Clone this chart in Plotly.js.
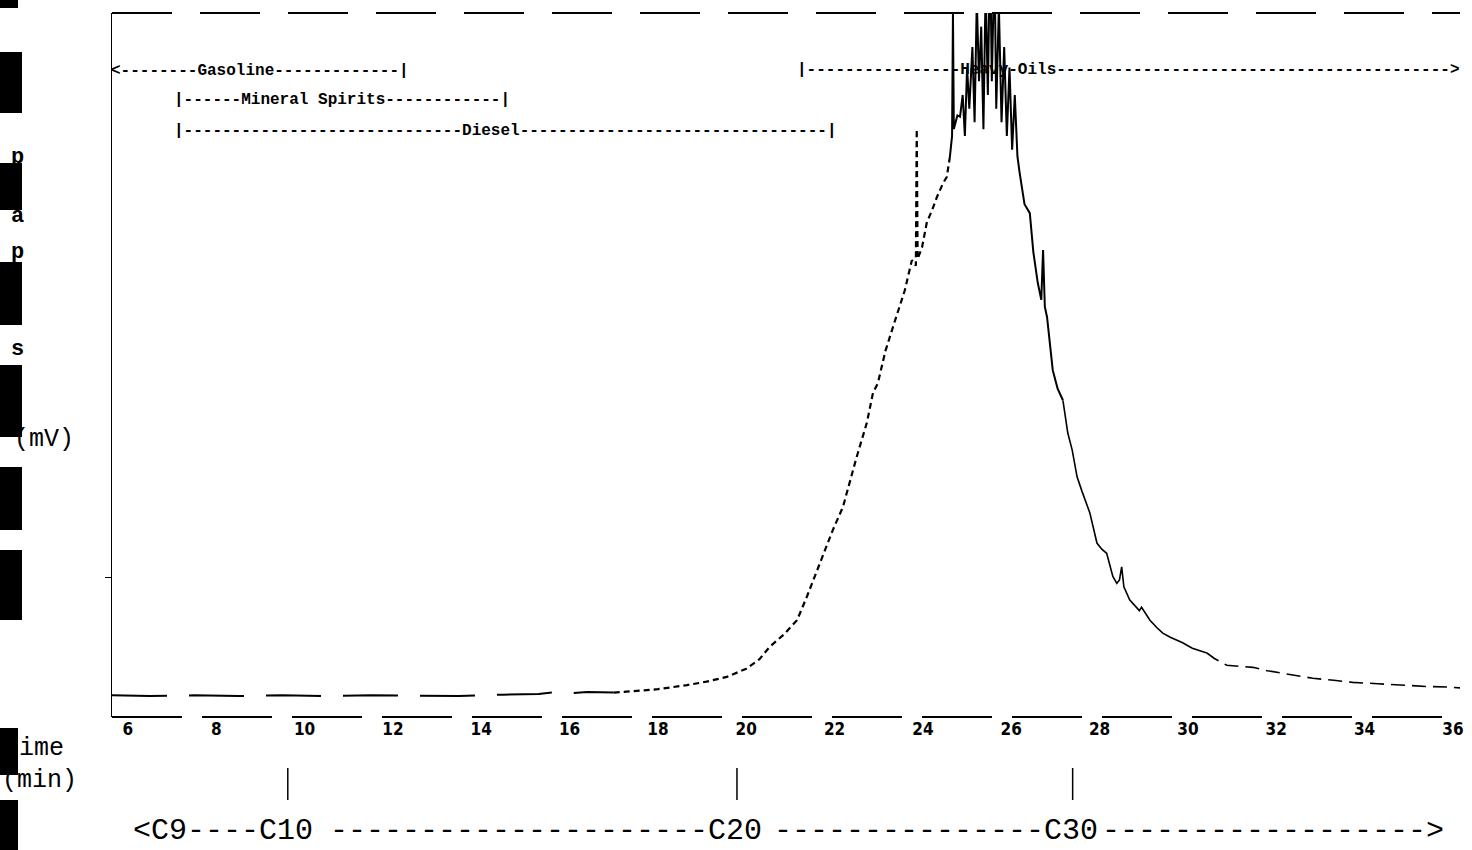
<!DOCTYPE html>
<html>
<head>
<meta charset="utf-8">
<script src="https://cdn.plot.ly/plotly-3.0.1.min.js"></script>
<style>html,body{margin:0;padding:0;background:#fff;}#chart{width:1472px;height:850px;}</style>
</head>
<body>
<div id="chart"></div>
<script>
// ---------- data ----------
// baseline segment (min, mV, arbitrary)
const earlyTime = [5.64, 6.5, 7.5, 8.5, 9.5, 10.5, 11.5, 12.5, 13.5, 14.5, 15.3, 15.7, 16.0, 16.4, 16.8, 17.0];
const earlyResp = [0.1, 0.0, 0.1, 0.0, 0.1, 0.0, 0.1, 0.1, 0.0, 0.2, 0.3, 0.6, 0.4, 0.6, 0.5, 0.5];
// rising front
const riseTime = [17.0, 17.5, 18.0, 18.66, 19.1, 19.56, 20.0, 20.3, 20.53, 20.85, 21.15, 21.37, 21.67, 21.96, 22.19, 22.35, 22.5, 22.73, 22.87, 22.98, 23.15, 23.36, 23.59, 23.75, 23.84, 23.86, 23.88, 23.98, 24.09, 24.2, 24.32, 24.45, 24.54, 24.61];
const riseResp = [0.5, 0.7, 1.0, 1.6, 2.1, 2.8, 4.0, 5.4, 7.2, 9.0, 11.1, 14.5, 19.5, 24.3, 27.7, 31.6, 35.0, 40.0, 44.4, 45.8, 50.5, 54.8, 59.4, 63.8, 63.0, 83.0, 64.0, 65.7, 69.4, 71.0, 73.1, 75.0, 76.0, 78.9];
// unresolved maximum (off-scale spikes)
const peakTime = [24.61, 24.66, 24.68, 24.70, 24.78, 24.84, 24.90, 24.95, 25.0, 25.05, 25.12, 25.17, 25.22, 25.27, 25.32, 25.37, 25.42, 25.47, 25.52, 25.56, 25.62, 25.66, 25.72, 25.78, 25.84, 25.9, 25.96, 26.02, 26.08, 26.14, 26.19, 26.3, 26.42, 26.5, 26.6, 26.68, 26.72, 26.76, 26.81, 26.87, 26.94, 27.05, 27.17];
const peakResp = [78.9, 82.0, 100.0, 83.0, 85.0, 84.8, 88.0, 82.0, 92.0, 86.0, 95.0, 84.0, 102.0, 90.0, 98.0, 83.0, 104.0, 88.0, 110.0, 90.0, 108.0, 86.0, 101.0, 84.0, 95.0, 82.0, 92.0, 80.0, 88.0, 79.0, 76.6, 72.0, 70.7, 65.0, 60.5, 58.0, 65.3, 57.0, 55.5, 52.1, 47.7, 45.0, 43.3];
// tailing decay
const tailTime = [27.17, 27.28, 27.38, 27.49, 27.6, 27.78, 27.94, 28.05, 28.16, 28.3, 28.39, 28.45, 28.5, 28.55, 28.68, 28.8, 28.9, 28.95, 29.14, 29.3, 29.43, 29.6, 29.88, 30.1, 30.43];
const tailResp = [43.3, 38.5, 36.0, 32.1, 30.0, 26.8, 22.4, 21.5, 20.9, 17.5, 16.5, 17.0, 18.9, 16.0, 14.1, 13.2, 12.5, 13.0, 11.1, 10.0, 9.2, 8.6, 7.8, 7.0, 6.3];
const lateTime = [30.43, 30.6, 30.88, 31.2, 31.47, 31.8, 32.08, 32.4, 32.83, 33.3, 33.73, 34.3, 34.8, 35.4, 35.93, 36.16];
const lateResp = [6.3, 5.5, 4.5, 4.3, 4.2, 3.7, 3.4, 3.0, 2.6, 2.3, 2.0, 1.8, 1.6, 1.4, 1.3, 1.2];

const xTickVals = [6, 8, 10, 12, 14, 16, 18, 20, 22, 24, 26, 28, 30, 32, 34, 36];
const yTickVals = [17.3];

// carbon-number retention markers
const carbonLabels = ['C10', 'C20', 'C30'];
const carbonTimes = [9.62, 19.79, 27.39];

// product boiling ranges (start time of each bracket) and their printed labels
const fuelStart = [5.65, 7.0, 7.0, 21.1];
const fuelText = [
  '<--------Gasoline-------------|',
  '|------Mineral Spirits------------|',
  '|-----------------------------Diesel--------------------------------|',
  '|----------------Heavy-Oils----------------------------------------->'
];
const fuelRow = [0.918, 0.876, 0.832, 0.919];

// ---------- plot ----------
const K = 'black';
const traces = [
  {x: earlyTime, y: earlyResp, mode: 'lines', line: {color: K, width: 2, dash: '55px,22px'}, hoverinfo: 'skip'},
  {x: riseTime, y: riseResp, mode: 'lines', line: {color: K, width: 2.2, dash: '6px,4px'}, hoverinfo: 'skip'},
  {x: peakTime, y: peakResp, mode: 'lines', line: {color: K, width: 2}, hoverinfo: 'skip'},
  {x: tailTime, y: tailResp, mode: 'lines', line: {color: K, width: 1.6}, hoverinfo: 'skip'},
  {x: lateTime, y: lateResp, mode: 'lines', line: {color: K, width: 1.6, dash: '14px,7px'}, hoverinfo: 'skip'}
];

const px2x = px => (px - 112) / 1348;
const py2y = py => (717 - py) / 704;

const shapes = [
  {type: 'line', xref: 'paper', yref: 'paper', x0: 0, x1: 1, y0: 1, y1: 1, line: {color: K, width: 2, dash: '60px,28px'}},
  {type: 'line', xref: 'paper', yref: 'paper', x0: 0, x1: 1, y0: 0, y1: 0, line: {color: K, width: 2, dash: '70px,20px'}}
];
carbonTimes.forEach(t => shapes.push({type: 'line', xref: 'x', yref: 'paper', x0: t, x1: t, y0: py2y(768), y1: py2y(800), line: {color: K, width: 1.5}}));

// redaction blobs over the scanned axis titles
const blobs = [[0, 18, 0, 8], [0, 22, 52, 113], [0, 22, 163, 210], [0, 22, 262, 325], [0, 22, 365, 437], [0, 22, 467, 530], [0, 22, 550, 620], [0, 18, 728, 775], [0, 18, 800, 850]];
blobs.forEach(b => shapes.push({type: 'rect', xref: 'paper', yref: 'paper', x0: px2x(b[0] - 4), x1: px2x(b[1]), y0: py2y(b[2]), y1: py2y(b[3]), fillcolor: K, line: {width: 0}, layer: 'above'}));

const mono = 'Liberation Mono, Courier New, DejaVu Sans Mono, monospace';
const annotations = [];
fuelText.forEach((s, i) => annotations.push({
  text: s, x: fuelStart[i], xref: 'x', xshift: i === 0 ? -3 : 0, y: fuelRow[i], yref: 'paper', xanchor: 'left', yanchor: 'middle',
  showarrow: false, font: {family: mono, size: 16, color: K, weight: 'bold'}
}));

const cFont = {family: mono, size: 30, color: K};
const half = 27;
const cY = py2y(831);
const cRows = ['<C9----', '---------------------', '---------------'];
carbonLabels.forEach((lab, i) => annotations.push({
  text: cRows[i] + lab, x: carbonTimes[i], xref: 'x', xshift: half, y: cY, yref: 'paper',
  xanchor: 'right', yanchor: 'middle', showarrow: false, font: cFont
}));
annotations.push({text: '------------------>', x: carbonTimes[2], xref: 'x', xshift: half, y: cY, yref: 'paper', xanchor: 'left', yanchor: 'middle', showarrow: false, font: cFont});

// scanned axis titles
const tFont = {family: mono, size: 25, color: K};
annotations.push({text: '(mV)', x: px2x(12), xref: 'paper', y: py2y(440), yref: 'paper', xanchor: 'left', yanchor: 'middle', showarrow: false, font: tFont});
annotations.push({text: 'ime', x: px2x(17), xref: 'paper', y: py2y(748), yref: 'paper', xanchor: 'left', yanchor: 'middle', showarrow: false, font: tFont});
annotations.push({text: '(min)', x: px2x(0), xref: 'paper', y: py2y(780), yref: 'paper', xanchor: 'left', yanchor: 'middle', showarrow: false, font: tFont});
[['p', 157], ['a', 216], ['p', 252], ['s', 350]].forEach(l => annotations.push({
  text: l[0], x: px2x(17), xref: 'paper', y: py2y(l[1]), yref: 'paper', xanchor: 'center', yanchor: 'middle', showarrow: false,
  font: {family: mono, size: 22, color: K, weight: 'bold'}
}));

const layout = {
  width: 1472, height: 850,
  margin: {l: 112, r: 12, t: 13, b: 133, pad: 0},
  paper_bgcolor: 'white', plot_bgcolor: 'white',
  showlegend: false,
  xaxis: {
    range: [5.64, 36.16], tickvals: xTickVals, ticktext: xTickVals.map(String),
    showgrid: false, zeroline: false, showline: false, ticks: '',
    tickfont: {family: 'DejaVu Sans Condensed, Liberation Sans Narrow, sans-serif', size: 17, color: K, weight: 'bold'}
  },
  yaxis: {
    range: [-3.07, 100], showgrid: false, zeroline: false, showline: true, linecolor: K, linewidth: 1.5,
    ticks: 'outside', ticklen: 6, tickcolor: K, tickvals: yTickVals, showticklabels: false
  },
  shapes: shapes,
  annotations: annotations
};

Plotly.newPlot('chart', traces, layout, {displayModeBar: false, staticPlot: true});
</script>
</body>
</html>
